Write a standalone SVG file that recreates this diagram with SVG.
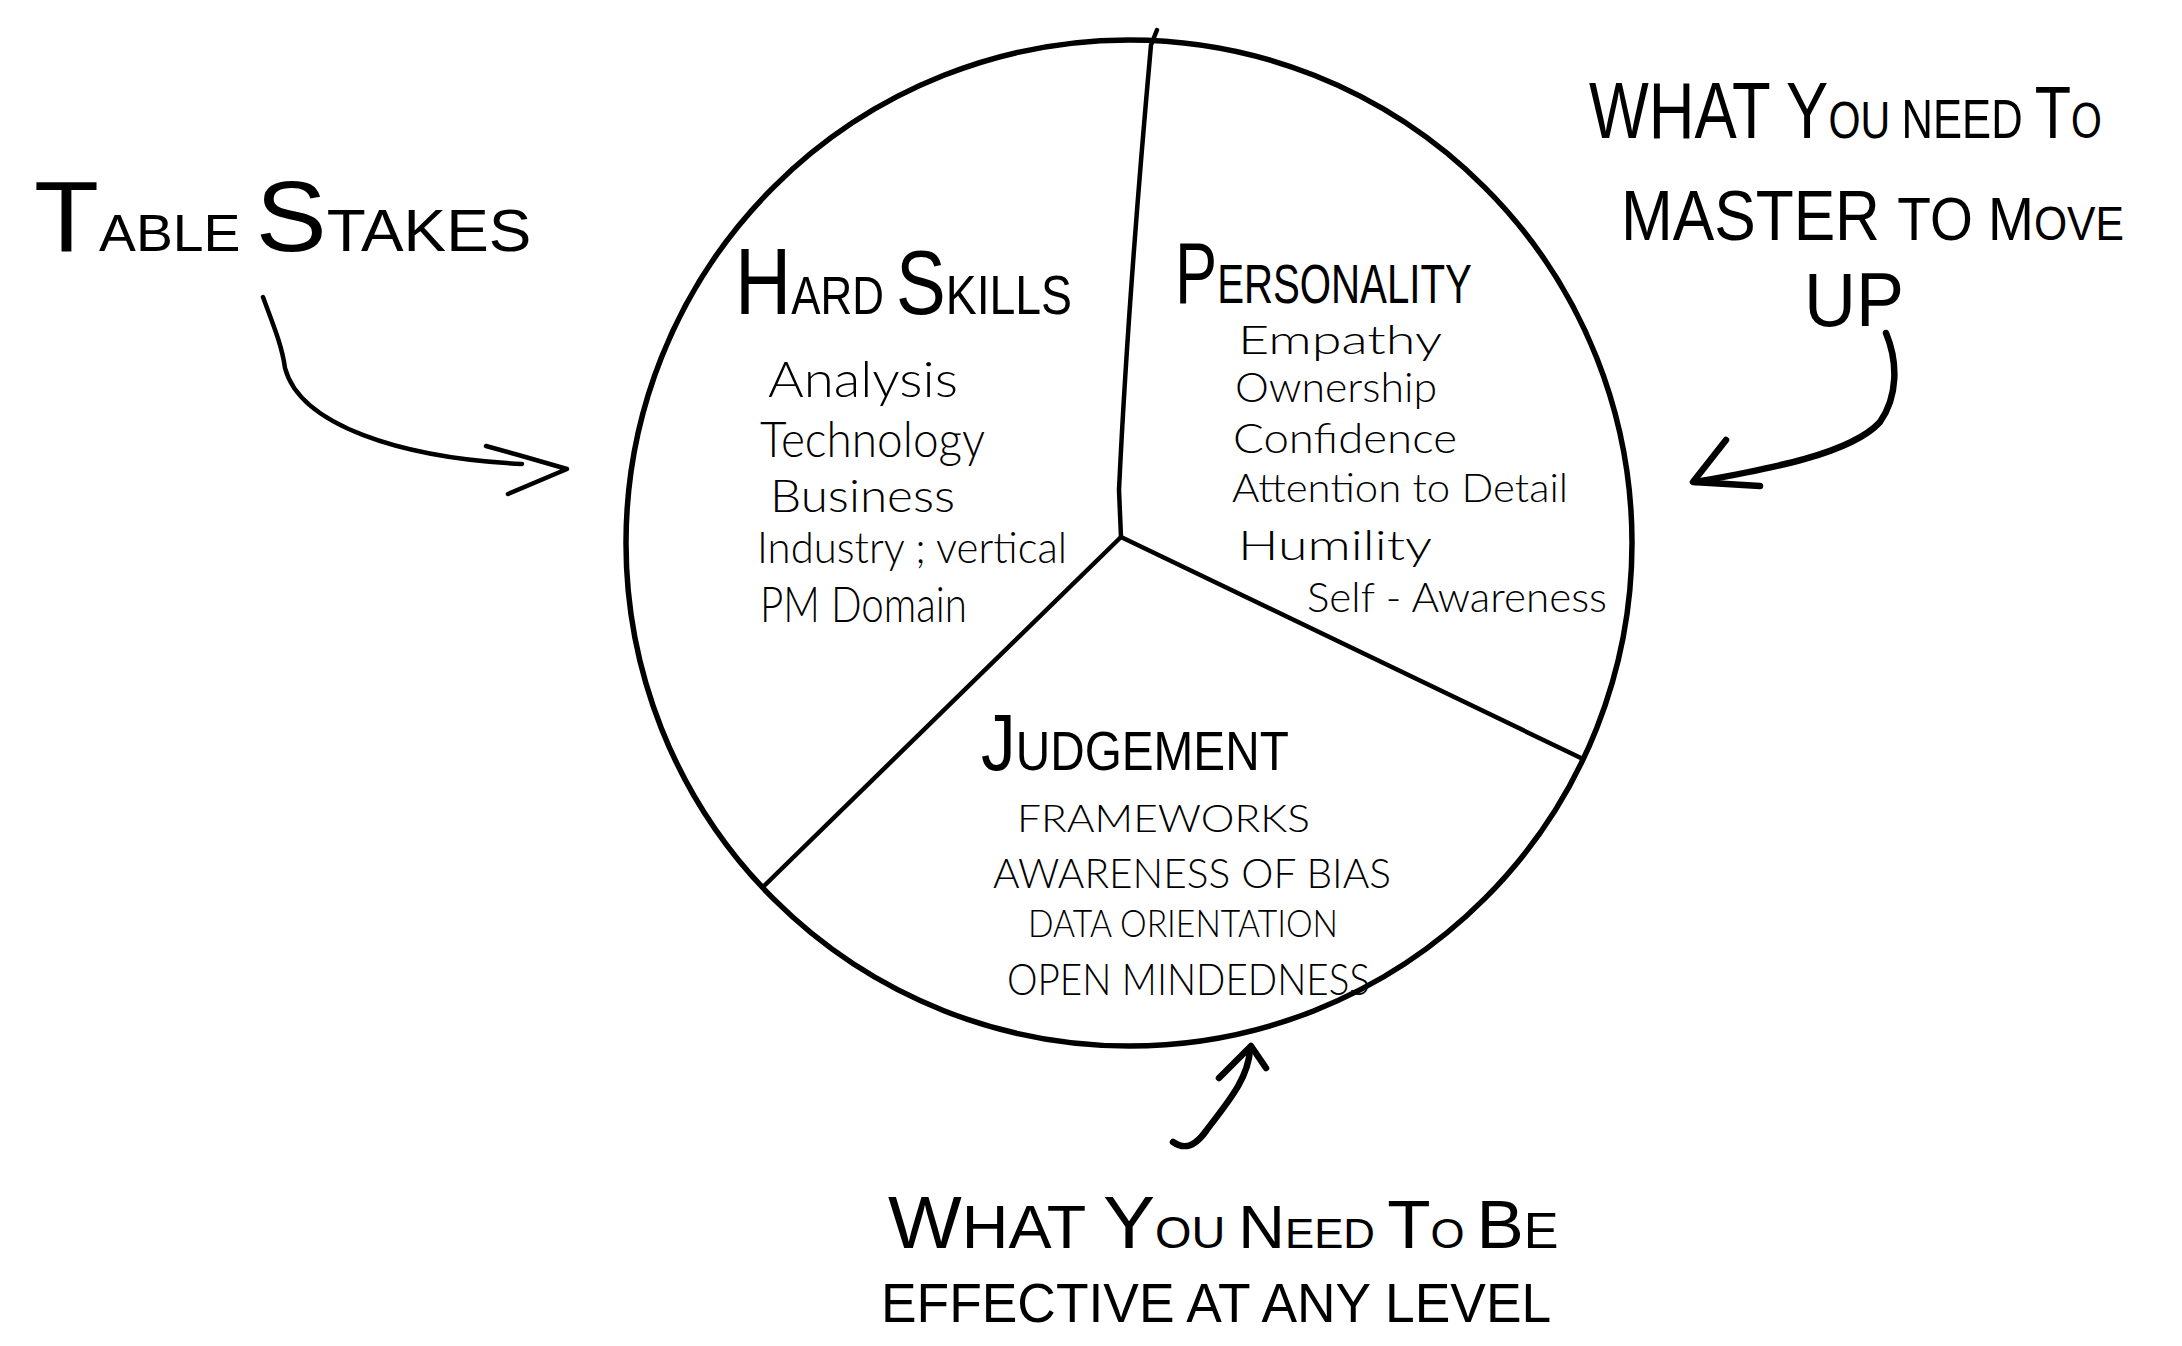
<svg xmlns="http://www.w3.org/2000/svg" width="2182" height="1346" viewBox="0 0 2182 1346">
<style>
  .ink { fill: none; stroke: #000; stroke-linecap: round; stroke-linejoin: round; }
  .rim { stroke-width: 5.5; }
  .spoke { stroke-width: 4.5; }
  .arrow { stroke-width: 4.5; }
  .arrow-bold { stroke-width: 6.5; }
  .mk { font-family: "Liberation Sans", Arial, sans-serif; font-weight: 400; fill: #000; }
  .hw { font-family: "Lato", "Open Sans", "Liberation Sans", Arial, sans-serif; font-weight: 300; fill: #000; }
</style>
<rect width="2182" height="1346" fill="#fff"/>

<g id="pie">
  <circle class="ink rim" cx="1129" cy="543" r="503"/>
  <path class="ink spoke" d="M1121,537 L1119,490 Q1128,300 1151,45 L1157,30"/>
  <path class="ink spoke" d="M1121,537 L1583,759"/>
  <path class="ink spoke" d="M1121,537 L764,886"/>
</g>

<g id="hard-skills">
  <text class="mk" x="0" y="0" transform="translate(735,314) scale(0.828,1)"><tspan font-size="94">H</tspan><tspan font-size="53">ARD </tspan><tspan font-size="90">S</tspan><tspan font-size="56">KILLS</tspan></text>
  <text class="hw" font-size="50" x="768" y="397" textLength="190" lengthAdjust="spacingAndGlyphs">Analysis</text>
  <text class="hw" font-size="50" x="760" y="457" textLength="225" lengthAdjust="spacingAndGlyphs">Technology</text>
  <text class="hw" font-size="46" x="770" y="512" textLength="185" lengthAdjust="spacingAndGlyphs">Business</text>
  <text class="hw" font-size="44" x="757" y="563" textLength="310" lengthAdjust="spacingAndGlyphs">Industry ; vertical</text>
  <text class="hw" font-size="50" x="760" y="622" textLength="207" lengthAdjust="spacingAndGlyphs">PM Domain</text>
</g>

<g id="personality">
  <text class="mk" x="0" y="0" transform="translate(1175,303) scale(0.718,1)"><tspan font-size="88">P</tspan><tspan font-size="56">ERSONALITY</tspan></text>
  <text class="hw" font-size="40" x="1238" y="354" textLength="204" lengthAdjust="spacingAndGlyphs">Empathy</text>
  <text class="hw" font-size="41" x="1235" y="402" textLength="202" lengthAdjust="spacingAndGlyphs">Ownership</text>
  <text class="hw" font-size="41" x="1233" y="453" textLength="224" lengthAdjust="spacingAndGlyphs">Confidence</text>
  <text class="hw" font-size="40" x="1232" y="502" textLength="336" lengthAdjust="spacingAndGlyphs">Attention to Detail</text>
  <text class="hw" font-size="42" x="1238" y="560" textLength="194" lengthAdjust="spacingAndGlyphs">Humility</text>
  <text class="hw" font-size="42" x="1307" y="612" textLength="300" lengthAdjust="spacingAndGlyphs">Self - Awareness</text>
</g>

<g id="judgement">
  <text class="mk" x="0" y="0" transform="translate(981,770) scale(0.868,1)"><tspan font-size="80">J</tspan><tspan font-size="55">UDGEMENT</tspan></text>
  <text class="hw" font-size="38" x="1017" y="832" textLength="293" lengthAdjust="spacingAndGlyphs">FRAMEWORKS</text>
  <text class="hw" font-size="42" x="993" y="888" textLength="398" lengthAdjust="spacingAndGlyphs">AWARENESS OF BIAS</text>
  <text class="hw" font-size="38" x="1028" y="937" textLength="310" lengthAdjust="spacingAndGlyphs">DATA ORIENTATION</text>
  <text class="hw" font-size="44" x="1007" y="995" textLength="363" lengthAdjust="spacingAndGlyphs">OPEN MINDEDNESS</text>
</g>

<g id="table-stakes">
  <text class="mk" x="0" y="0" transform="translate(34,251) scale(1.064,1)"><tspan font-size="100">T</tspan><tspan font-size="52">ABLE </tspan><tspan font-size="100">S</tspan><tspan font-size="60">TAKES</tspan></text>
</g>

<g id="master-to-move-up">
  <text class="mk" x="0" y="0" transform="translate(1589,138) scale(0.792,1)"><tspan font-size="80">WHAT Y</tspan><tspan font-size="52">OU </tspan><tspan font-size="55">NEED </tspan><tspan font-size="75">T</tspan><tspan font-size="50">O</tspan></text>
  <text class="mk" x="0" y="0" transform="translate(1621,240) scale(0.888,1)"><tspan font-size="70">MASTER </tspan><tspan font-size="62">TO M</tspan><tspan font-size="48">OVE</tspan></text>
  <text class="mk" font-size="76" x="0" y="0" transform="translate(1804,326) scale(0.947,1)">UP</text>
</g>

<g id="effective-any-level">
  <text class="mk" x="0" y="0" transform="translate(888,1248) scale(1.042,1)"><tspan font-size="75">W</tspan><tspan font-size="62">HAT </tspan><tspan font-size="75">Y</tspan><tspan font-size="45">OU </tspan><tspan font-size="62">N</tspan><tspan font-size="42">EED </tspan><tspan font-size="68">T</tspan><tspan font-size="42">O </tspan><tspan font-size="68">B</tspan><tspan font-size="50">E</tspan></text>
  <text class="mk" font-size="56" x="0" y="0" transform="translate(881,1322) scale(0.953,1)">EFFECTIVE AT ANY LEVEL</text>
</g>

<g id="connectors">
  <path class="ink arrow" d="M263,297 C272,322 282,345 285,368 C300,425 400,458 522,464"/>
  <path class="ink arrow" d="M486,446 L522,456 L567,469 L508,494"/>
  <path class="ink arrow-bold" d="M1886,333 C1898,362 1898,396 1880,422 C1850,455 1762,470 1696,482"/>
  <path class="ink arrow-bold" d="M1726,440 L1693,482 L1760,486"/>
  <path class="ink arrow-bold" d="M1173,1142 C1186,1151 1196,1145 1206,1131 C1226,1104 1248,1080 1250,1050"/>
  <path class="ink arrow-bold" d="M1219,1078 L1251,1046 L1266,1068"/>
</g>
</svg>
